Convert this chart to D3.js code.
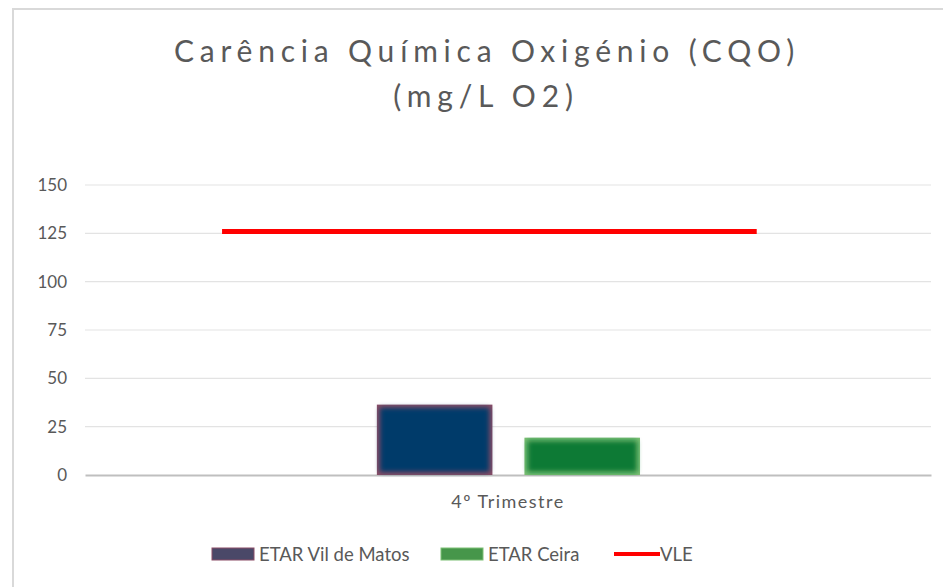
<!DOCTYPE html>
<html>
<head>
<meta charset="utf-8">
<script src="https://cdn.jsdelivr.net/npm/d3@7"></script>
<style>
  body { margin: 0; background: #fff; }
  text { font-family: Lato, "Open Sans", sans-serif; fill: #595959; }
</style>
</head>
<body>
<div id="container"></div>
<script>
// Data
const categories = ["4º Trimestre"];
const seriesNames = ["ETAR Vil de Matos", "ETAR Ceira"];
const vilMatos = [36.4];
const ceira = [19.3];
const vle = [126];
const yTicks = [0, 25, 50, 75, 100, 125, 150];

const width = 943;
const height = 587;
const margin = { top: 185, right: 12, bottom: 112, left: 85 };

const svg = d3
  .select("#container")
  .append("svg")
  .attr("width", width)
  .attr("height", height);

// chart frame
svg
  .append("path")
  .attr("d", "M13,587 V9 H943")
  .attr("fill", "none")
  .attr("stroke", "#d9d9d9")
  .attr("stroke-width", 2);

// Title
const title = svg.append("text").attr("text-anchor", "middle").style("font-size", "30px").style("letter-spacing", "5.8px");
title.append("tspan").attr("x", 487).attr("y", 62).text("Carência Química Oxigénio (CQO)");
title.append("tspan").attr("x", 486).attr("y", 107).text("(mg/L O2)");

const x = d3
  .scaleBand()
  .domain(categories)
  .range([margin.left, width - margin.right]);

const y = d3
  .scaleLinear()
  .domain([0, 150])
  .range([height - margin.bottom, margin.top]);

// bars sit in the middle of the band
const xs = d3
  .scaleBand()
  .domain(seriesNames)
  .range([x.bandwidth() * 0.345, x.bandwidth() * 0.656])
  .paddingInner(0.217);

// gridlines
svg
  .append("g")
  .selectAll("line")
  .data(yTicks.filter((d) => d > 0))
  .enter()
  .append("line")
  .attr("x1", margin.left)
  .attr("x2", width - margin.right)
  .attr("y1", (d) => y(d))
  .attr("y2", (d) => y(d))
  .attr("stroke", "#e3e3e3")
  .attr("stroke-width", 1.2);

// y axis labels
const yAxis = svg
  .append("g")
  .attr("transform", `translate(${margin.left},0)`)
  .call(d3.axisLeft(y).tickValues(yTicks).tickSize(0).tickPadding(18));
yAxis.select(".domain").remove();
yAxis.selectAll("text").style("font-size", "17px").attr("fill", "#595959").style("font-family", "Lato, sans-serif");

// x axis
const xAxis = svg
  .append("g")
  .attr("transform", `translate(0,${y(0)})`)
  .call(d3.axisBottom(x).tickSize(0).tickPadding(20));
xAxis.select(".domain").attr("stroke", "#bfbfbf").attr("stroke-width", 2);
xAxis
  .selectAll("text")
  .style("font-size", "18px")
  .style("letter-spacing", "1.5px")
  .attr("fill", "#595959")
  .style("font-family", "Lato, sans-serif");

// soft-edge filter for bars
const defs = svg.append("defs");
defs
  .append("filter")
  .attr("id", "soft")
  .attr("x", "-10%").attr("y", "-10%").attr("width", "120%").attr("height", "120%")
  .append("feGaussianBlur")
  .attr("stdDeviation", 2.5);

const barStyles = [
  { edge: "#8a4d66", fill: "#063a6b" },
  { edge: "#7cbf74", fill: "#0b7a36" },
];

const barData = categories.flatMap((c, i) => [
  { cat: c, name: seriesNames[0], value: vilMatos[i], style: barStyles[0] },
  { cat: c, name: seriesNames[1], value: ceira[i], style: barStyles[1] },
]);

const bars = svg.append("g");
bars
  .selectAll("rect.edge")
  .data(barData)
  .enter()
  .append("rect")
  .attr("class", "edge")
  .attr("x", (d) => x(d.cat) + xs(d.name))
  .attr("y", (d) => y(d.value))
  .attr("width", xs.bandwidth())
  .attr("height", (d) => y(0) - y(d.value))
  .attr("fill", (d) => d.style.edge);
bars
  .selectAll("rect.inner")
  .data(barData)
  .enter()
  .append("rect")
  .attr("class", "inner")
  .attr("x", (d) => x(d.cat) + xs(d.name) + 3)
  .attr("y", (d) => y(d.value) + 3)
  .attr("width", xs.bandwidth() - 6)
  .attr("height", (d) => y(0) - y(d.value) - 6)
  .attr("fill", (d) => d.style.fill)
  .attr("filter", "url(#soft)");

// VLE line
svg
  .append("g")
  .selectAll("line")
  .data(categories.map((c, i) => ({ cat: c, value: vle[i] })))
  .enter()
  .append("line")
  .attr("x1", (d) => x(d.cat) + x.bandwidth() * 0.162)
  .attr("x2", (d) => x(d.cat) + x.bandwidth() * 0.794)
  .attr("y1", (d) => y(d.value))
  .attr("y2", (d) => y(d.value))
  .attr("stroke", "#ff0000")
  .attr("stroke-width", 5);

// Legend
const legend = svg.append("g").attr("transform", "translate(0,554)");
const legendItems = [
  { label: "ETAR Vil de Matos", x: 212, type: "rect", color: "#4a4868", edge: "#8a4d66" },
  { label: "ETAR Ceira", x: 441, type: "rect", color: "#46964a", edge: "#7cbf74" },
  { label: "VLE", x: 614, type: "line", color: "#ff0000" },
];
legendItems.forEach((d) => {
  if (d.type === "rect") {
    legend
      .append("rect")
      .attr("x", d.x)
      .attr("y", -6)
      .attr("width", 42)
      .attr("height", 12)
      .attr("fill", d.color)
      .attr("stroke", d.edge)
      .attr("stroke-width", 1);
  } else {
    legend
      .append("line")
      .attr("x1", d.x)
      .attr("x2", d.x + 46)
      .attr("y1", 0)
      .attr("y2", 0)
      .attr("stroke", d.color)
      .attr("stroke-width", 4);
  }
  legend
    .append("text")
    .attr("x", d.x + (d.type === "rect" ? 47 : 46))
    .attr("y", 6.5)
    .style("font-size", "18.5px")
    .text(d.label);
});
</script>
</body>
</html>
